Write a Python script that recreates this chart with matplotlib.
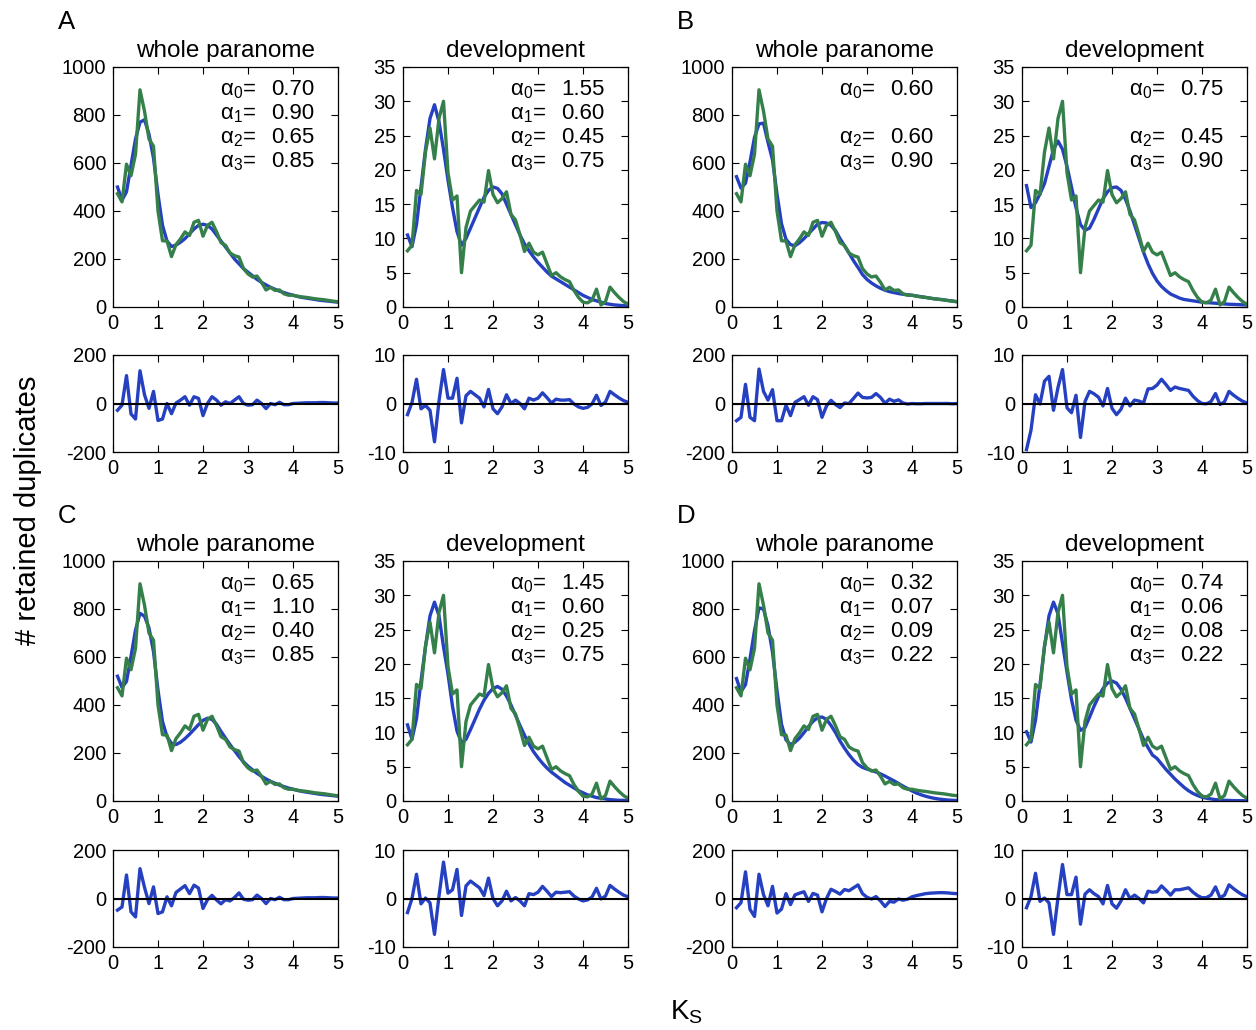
import numpy as np
import matplotlib
matplotlib.use("Agg")
import matplotlib.pyplot as plt

plt.rcParams["font.family"] = ["Liberation Sans", "DejaVu Sans"]
plt.rcParams["mathtext.fontset"] = "custom"
plt.rcParams["mathtext.rm"] = "Liberation Sans"
plt.rcParams["mathtext.it"] = "Liberation Sans:italic"
plt.rcParams["axes.unicode_minus"] = False

# Ks bin centres
ks = np.arange(1, 51) / 10

# observed counts (green), same data in every panel
obs_whole = [472, 438, 595, 547, 636, 905, 816, 700, 670, 400,
             276, 275, 210, 260, 284, 313, 298, 353, 361, 295,
             340, 353, 314, 268, 257, 225, 214, 208, 160, 138,
             125, 129, 103, 71, 82, 69, 71, 55, 49, 49,
             45, 42, 40, 37, 34, 32, 30, 27, 24, 22]
obs_dev = [8.2, 9.0, 17.0, 16.4, 22.6, 26.1, 21.6, 27.5, 30.0, 19.6,
           15.6, 16.2, 5.0, 11.6, 14.0, 14.8, 15.6, 15.3, 19.9, 16.4,
           15.2, 15.8, 16.8, 13.5, 12.7, 10.5, 8.1, 9.3, 8.0, 7.6,
           8.0, 6.3, 4.6, 5.0, 4.4, 4.0, 3.7, 2.4, 1.4, 0.7,
           0.6, 1.0, 2.6, 0.3, 0.8, 2.9, 2.1, 1.4, 0.8, 0.4]

# model fits (blue)
fit_A_whole = [500, 445, 480, 590, 700, 770, 780, 720, 620, 470,
               340, 275, 252, 258, 270, 285, 305, 325, 340, 345,
               340, 325, 300, 275, 250, 225, 200, 180, 160, 145,
               130, 115, 103, 92, 82, 74, 66, 60, 54, 49,
               44, 40, 37, 34, 31, 28, 26, 24, 22, 20]
fit_A_dev = [10.5, 8.8, 12.0, 17.5, 23.0, 27.5, 29.5, 27.0, 23.0, 18.5,
             14.5, 11.0, 9.0, 10.0, 11.5, 13.0, 14.5, 16.0, 17.0, 17.5,
             17.3, 16.5, 15.0, 13.5, 12.0, 10.5, 9.2, 8.2, 7.3, 6.5,
             5.8, 5.1, 4.5, 4.1, 3.7, 3.3, 2.9, 2.5, 2.1, 1.7,
             1.4, 1.1, 0.9, 0.7, 0.5, 0.4, 0.3, 0.25, 0.2, 0.15]

fit_B_whole = [543, 495, 516, 604, 707, 763, 766, 686, 613, 471,
               347, 282, 260, 255, 268, 285, 305, 325, 345, 352,
               350, 340, 318, 285, 255, 225, 193, 165, 135, 115,
               100, 88, 78, 70, 64, 60, 56, 53, 51, 49,
               46, 43, 40, 37, 34, 32, 30, 27, 25, 22]
fit_B_dev = [17.7, 14.5, 15.2, 16.5, 18.0, 20.5, 23.0, 24.2, 23.0, 20.5,
             17.5, 14.5, 12.0, 11.2, 11.5, 12.8, 14.3, 15.8, 16.8, 17.4,
             17.5, 17.0, 15.7, 14.0, 12.0, 10.0, 8.0, 6.3, 4.9, 3.8,
             3.0, 2.4, 1.9, 1.6, 1.3, 1.1, 1.0, 0.9, 0.8, 0.7,
             0.65, 0.6, 0.55, 0.5, 0.45, 0.4, 0.38, 0.35, 0.32, 0.3]

fit_C_whole = [520, 473, 498, 602, 712, 782, 770, 721, 622, 462,
               331, 268, 240, 235, 245, 260, 278, 298, 318, 336,
               345, 340, 320, 290, 262, 235, 210, 185, 163, 145,
               130, 115, 103, 92, 82, 74, 66, 60, 54, 49,
               44, 40, 37, 34, 31, 28, 26, 24, 22, 20]
fit_C_dev = [11.1, 9.0, 12.0, 17.5, 22.5, 27.0, 29.0, 27.0, 22.5, 18.5,
             13.8, 10.2, 8.5, 9.0, 10.4, 11.9, 13.4, 14.7, 15.7, 16.4,
             16.7, 16.3, 15.3, 14.0, 12.5, 11.0, 9.6, 8.3, 7.2, 6.3,
             5.5, 4.8, 4.2, 3.7, 3.2, 2.7, 2.3, 1.9, 1.5, 1.2,
             0.9, 0.7, 0.5, 0.4, 0.3, 0.2, 0.15, 0.1, 0.1, 0.05]

fit_D_whole = [510, 455, 485, 592, 710, 805, 800, 730, 620, 460,
               320, 255, 235, 245, 262, 285, 310, 332, 347, 350,
               340, 315, 285, 250, 220, 193, 170, 152, 140, 133,
               127, 121, 113, 104, 94, 84, 73, 62, 52, 42,
               33, 26, 20, 15, 11, 8, 6, 4, 3, 2]
fit_D_dev = [10.1, 8.6, 11.8, 17.0, 22.5, 27.0, 29.0, 27.3, 23.0, 18.8,
             14.8, 11.8, 10.3, 10.7, 12.2, 13.8, 15.2, 16.4, 17.2, 17.5,
             17.2, 16.3, 15.0, 13.5, 12.0, 10.5, 9.0, 7.8, 6.7, 6.2,
             5.4, 4.6, 3.9, 3.2, 2.6, 2.0, 1.5, 1.1, 0.8, 0.55,
             0.4, 0.3, 0.2, 0.15, 0.1, 0.08, 0.06, 0.05, 0.04, 0.03]

# fitted parameters (None = line left blank)
alpha_A = (["0.70", "0.90", "0.65", "0.85"], ["1.55", "0.60", "0.45", "0.75"])
alpha_B = (["0.60", None, "0.60", "0.90"], ["0.75", None, "0.45", "0.90"])
alpha_C = (["0.65", "1.10", "0.40", "0.85"], ["1.45", "0.60", "0.25", "0.75"])
alpha_D = (["0.32", "0.07", "0.09", "0.22"], ["0.74", "0.06", "0.08", "0.22"])

GREEN = "#35804a"
BLUE = "#2540c0"
W, H = 1256, 1030

fig = plt.figure(figsize=(W / 100, H / 100), dpi=100)


def add_ax(left, top, width, height):
    return fig.add_axes([left / W, 1 - (top + height) / H, width / W, height / H])


def style(ax):
    ax.tick_params(direction="in", top=True, right=True, length=5,
                   labelsize=14.5, pad=5)
    ax.set_xlim(0, 5)
    ax.set_xticks(range(6))
    for s in ax.spines.values():
        s.set_linewidth(0.9)


panels = [
    ("A", 113, 403, 67, 355, fit_A_whole, fit_A_dev, alpha_A),
    ("B", 732, 1022, 67, 355, fit_B_whole, fit_B_dev, alpha_B),
    ("C", 113, 403, 561, 850, fit_C_whole, fit_C_dev, alpha_C),
    ("D", 732, 1022, 561, 850, fit_D_whole, fit_D_dev, alpha_D),
]

for letter, lw_, ld_, top_main, top_res, fw, fd, alphas in panels:
    fig.text((lw_ - 55) / W, 1 - (top_main - 45) / H, letter, fontsize=18.5,
             va="center", ha="left")
    cols = [(lw_, obs_whole, fw, alphas[0], "whole paranome",
             (0, 1000), range(0, 1001, 200), (-200, 200), [-200, 0, 200]),
            (ld_, obs_dev, fd, alphas[1], "development",
             (0, 35), range(0, 36, 5), (-10, 10), [-10, 0, 10])]
    for left, obs, fit, alist, title, ylim, yt, rlim, rt in cols:
        ax = add_ax(left, top_main, 225, 240)
        ax.plot(ks, fit, color=BLUE, lw=2.4)
        ax.plot(ks, obs, color=GREEN, lw=2.4)
        style(ax)
        ax.set_ylim(*ylim)
        ax.set_yticks(list(yt))
        ax.set_title(title, fontsize=17.5, pad=7)
        for i, val in enumerate(alist):
            if val is None:
                continue
            y = 0.883 - 0.1 * i
            ax.text(0.635, y, r"$\mathrm{\alpha}_{%d}$=" % i, transform=ax.transAxes,
                    ha="right", va="baseline", fontsize=16)
            ax.text(0.895, y, val, transform=ax.transAxes,
                    ha="right", va="baseline", fontsize=16)

        rax = add_ax(left, top_res, 225, 97)
        resid = np.array(obs) - np.array(fit)
        rax.plot(ks, resid, color=BLUE, lw=2.4)
        rax.axhline(0, color="black", lw=1.5)
        style(rax)
        rax.set_ylim(*rlim)
        rax.set_yticks(rt)

fig.text(28 / W, 1 - 510 / H, "# retained duplicates", rotation=90,
         fontsize=21, ha="center", va="center")
fig.text(686 / W, 1 - 1012 / H, r"K$_\mathrm{S}$", fontsize=20,
         ha="center", va="center")

fig.savefig("out.png", dpi=100)
